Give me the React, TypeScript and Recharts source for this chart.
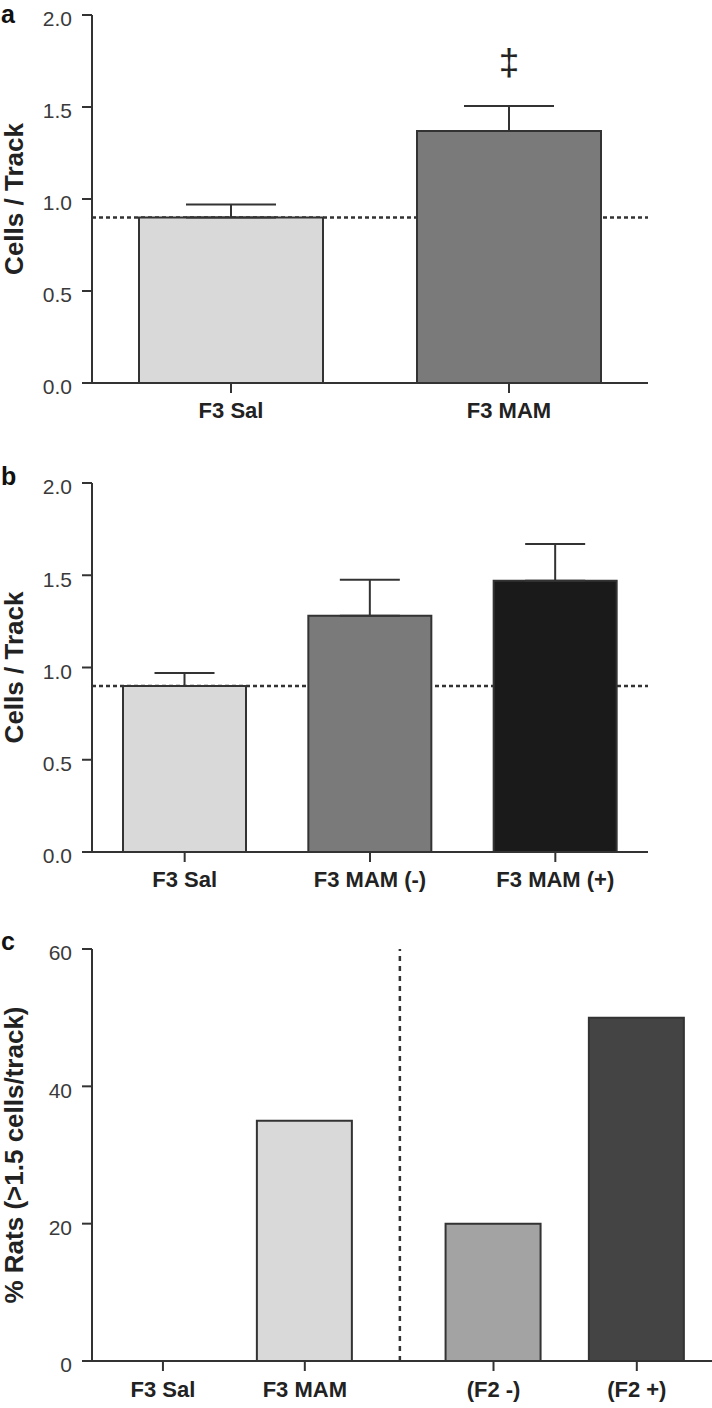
import React from 'react';
import {
  BarChart,
  Bar,
  XAxis,
  YAxis,
  Cell,
  ErrorBar,
  ReferenceLine,
  ReferenceDot,
} from 'recharts';

// ---------- data ----------
const categoriesA = ['F3 Sal', 'F3 MAM'];
const meansA = [0.9, 1.37];
const semA = [0.07, 0.135];
const markCategoryA = 'F3 MAM';
const markValueA = 1.74;
const markSymbolA = '‡';

const categoriesB = ['F3 Sal', 'F3 MAM (-)', 'F3 MAM (+)'];
const meansB = [0.9, 1.28, 1.47];
const semB = [0.07, 0.195, 0.2];

const cellsTicks = [0, 0.5, 1, 1.5, 2];
const controlLevel = 0.9;

const categoriesC = ['F3 Sal', 'F3 MAM', '(F2 -)', '(F2 +)'];
const percentC = [0, 35, 20, 50];
const percentTicks = [0, 20, 40, 60];

// ---------- layout / style constants ----------
const slotsC = [0.5, 1.5, 2.83, 3.84];
const dividerC = 2.17;
const domainMaxC = 4.37;

const colorsA = ['#d9d9d9', '#7a7a7a'];
const colorsB = ['#d9d9d9', '#7a7a7a', '#1a1a1a'];
const colorsC = ['#ffffff', '#d9d9d9', '#a3a3a3', '#444444'];

const FONT = '"Liberation Sans", Arial, Helvetica, sans-serif';
const AXIS = '#333333';

const dataA = categoriesA.map((c, i) => ({ category: c, mean: meansA[i], err: [0, semA[i]] }));
const dataB = categoriesB.map((c, i) => ({ category: c, mean: meansB[i], err: [0, semB[i]] }));
const dataC = categoriesC.map((c, i) => ({ slot: slotsC[i], category: c, pct: percentC[i] }));

const yTick = { fill: '#3a3a3a', fontSize: 21, fontFamily: FONT, dy: 4 };
const xTick = { fill: '#222', fontSize: 22, fontFamily: FONT, fontWeight: 'bold' as const };

const yLabel = (text: string) => ({
  value: text,
  angle: -90,
  position: 'insideLeft' as const,
  offset: 14,
  style: { textAnchor: 'middle', fontWeight: 'bold', fontSize: 26, fill: '#222', fontFamily: FONT },
});

const abs = (top: number): React.CSSProperties => ({ position: 'absolute', left: 0, top });

const refLineProps: any = { zIndex: 0 };

function PanelA() {
  return (
    <div style={abs(0)}>
      <BarChart width={712} height={440} data={dataA} margin={{ top: 15, right: 64, bottom: 17, left: 0 }}>
        <XAxis
          dataKey="category"
          height={40}
          tickSize={10}
          tickMargin={9}
          tick={xTick}
          axisLine={{ stroke: AXIS, strokeWidth: 2 }}
          tickLine={{ stroke: AXIS, strokeWidth: 2 }}
        />
        <YAxis
          width={92}
          domain={[0, 2]}
          ticks={cellsTicks}
          tickFormatter={(v: number) => v.toFixed(1)}
          tickSize={10}
          tickMargin={10}
          tick={yTick}
          axisLine={{ stroke: AXIS, strokeWidth: 2 }}
          tickLine={{ stroke: AXIS, strokeWidth: 2 }}
          label={yLabel('Cells / Track')}
        />
        <ReferenceLine {...refLineProps} y={controlLevel} stroke={AXIS} strokeWidth={2.5} strokeDasharray="4 3" />
        <Bar dataKey="mean" barSize={184} stroke={AXIS} strokeWidth={2} isAnimationActive={false}>
          {dataA.map((d, i) => (
            <Cell key={d.category} fill={colorsA[i]} />
          ))}
          <ErrorBar dataKey="err" width={45} stroke={AXIS} strokeWidth={2} direction="y" />
        </Bar>
        <ReferenceDot
          x={markCategoryA}
          y={markValueA}
          r={0}
          shape={(p: any) => (
            <text
              x={p.cx}
              y={p.cy}
              textAnchor="middle"
              dominantBaseline="central"
              fontSize={37}
              fontFamily={FONT}
              fill="#222"
            >
              {markSymbolA}
            </text>
          )}
        />
      </BarChart>
    </div>
  );
}

function PanelB() {
  return (
    <div style={abs(440)}>
      <BarChart width={712} height={470} data={dataB} margin={{ top: 43, right: 64, bottom: 18, left: 0 }}>
        <XAxis
          dataKey="category"
          height={40}
          tickSize={10}
          tickMargin={9}
          tick={xTick}
          axisLine={{ stroke: AXIS, strokeWidth: 2 }}
          tickLine={{ stroke: AXIS, strokeWidth: 2 }}
        />
        <YAxis
          width={92}
          domain={[0, 2]}
          ticks={cellsTicks}
          tickFormatter={(v: number) => v.toFixed(1)}
          tickSize={10}
          tickMargin={10}
          tick={yTick}
          axisLine={{ stroke: AXIS, strokeWidth: 2 }}
          tickLine={{ stroke: AXIS, strokeWidth: 2 }}
          label={yLabel('Cells / Track')}
        />
        <ReferenceLine {...refLineProps} y={controlLevel} stroke={AXIS} strokeWidth={2.5} strokeDasharray="4 3" />
        <Bar dataKey="mean" barSize={123} stroke={AXIS} strokeWidth={2} isAnimationActive={false}>
          {dataB.map((d, i) => (
            <Cell key={d.category} fill={colorsB[i]} />
          ))}
          <ErrorBar dataKey="err" width={30} stroke={AXIS} strokeWidth={2} direction="y" />
        </Bar>
      </BarChart>
    </div>
  );
}

function PanelC() {
  const labelFor = (v: number) => {
    const i = slotsC.findIndex((s) => Math.abs(s - v) < 1e-6);
    return i >= 0 ? categoriesC[i] : '';
  };
  return (
    <div style={abs(910)}>
      <BarChart width={712} height={498} data={dataC} margin={{ top: 39, right: 0, bottom: 7, left: 0 }}>
        <XAxis
          type="number"
          dataKey="slot"
          domain={[0, domainMaxC]}
          ticks={slotsC}
          interval={0}
          tickFormatter={labelFor}
          height={40}
          tickSize={10}
          tickMargin={10}
          tick={xTick}
          axisLine={{ stroke: AXIS, strokeWidth: 2 }}
          tickLine={{ stroke: AXIS, strokeWidth: 2 }}
        />
        <YAxis
          width={92}
          domain={[0, 60]}
          ticks={percentTicks}
          tickSize={10}
          tickMargin={10}
          tick={yTick}
          axisLine={{ stroke: AXIS, strokeWidth: 2 }}
          tickLine={{ stroke: AXIS, strokeWidth: 2 }}
          label={yLabel('% Rats (>1.5 cells/track)')}
        />
        <ReferenceLine {...refLineProps} x={dividerC} stroke={AXIS} strokeWidth={2.5} strokeDasharray="5 5" />
        <Bar dataKey="pct" barSize={95} stroke={AXIS} strokeWidth={2} isAnimationActive={false}>
          {dataC.map((d, i) => (
            <Cell key={d.category} fill={colorsC[i]} />
          ))}
        </Bar>
      </BarChart>
    </div>
  );
}

export default function App() {
  return (
    <div style={{ position: 'absolute', left: 0, top: 0, width: 712, height: 1408, background: '#fff' }}>
      <svg width={712} height={1408} style={{ position: 'absolute', left: 0, top: 0 }}>
        <g fontFamily={FONT} fontWeight="bold" fontSize={25} fill="#111">
          <text x={1} y={23}>a</text>
          <text x={1} y={485}>b</text>
          <text x={1} y={950}>c</text>
        </g>
      </svg>
      <PanelA />
      <PanelB />
      <PanelC />
    </div>
  );
}
